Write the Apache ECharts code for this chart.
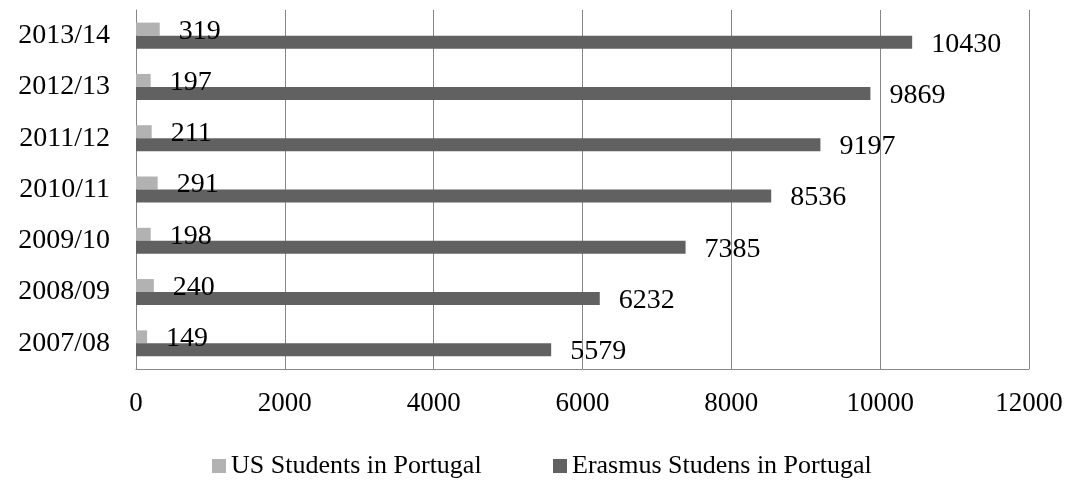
<!DOCTYPE html>
<html>
<head>
<meta charset="utf-8">
<title>US and Erasmus Students in Portugal</title>
<script src="https://cdn.jsdelivr.net/npm/echarts@6/dist/echarts.min.js"></script>
<style>
  html, body { margin: 0; padding: 0; background: #ffffff; }
  #chart { width: 1068px; height: 480px; }
</style>
</head>
<body>
<div id="chart"></div>
<script>
// Academic years, bottom to top on the category axis
const years = ['2007/08', '2008/09', '2009/10', '2010/11', '2011/12', '2012/13', '2013/14'];
// Number of US students studying in Portugal per academic year
const usStudents = [149, 240, 198, 291, 211, 197, 319];
// Number of Erasmus students studying in Portugal per academic year
const erasmusStudents = [5579, 6232, 7385, 8536, 9197, 9869, 10430];
// Value axis ticks
const valueTicks = [0, 2000, 4000, 6000, 8000, 10000, 12000];

const seriesNames = ['US Students in Portugal', 'Erasmus Studens in Portugal'];
const FONT = '"Liberation Serif", "DejaVu Serif", serif';
const GRID_COLOR = '#878787';

const chart = echarts.init(document.getElementById('chart'), null, { renderer: 'canvas' });

const labelStyle = {
  show: true,
  position: 'right',
  distance: 19,
  offset: [0, 2],
  color: '#000000',
  fontFamily: FONT,
  fontSize: 28
};

chart.setOption({
  animation: false,
  backgroundColor: '#ffffff',
  textStyle: { fontFamily: FONT },
  grid: { left: 136, right: 39, top: 10, bottom: 111, containLabel: false },
  legend: [
    {
      data: [seriesNames[0]],
      left: 207, top: 448,
      itemWidth: 14, itemHeight: 14, itemGap: 6,
      icon: 'rect',
      textStyle: { fontFamily: FONT, fontSize: 26, color: '#000000' }
    },
    {
      data: [seriesNames[1]],
      left: 548, top: 448,
      itemWidth: 14, itemHeight: 14, itemGap: 6,
      icon: 'rect',
      textStyle: { fontFamily: FONT, fontSize: 26, color: '#000000' }
    }
  ],
  xAxis: {
    type: 'value',
    min: valueTicks[0],
    max: valueTicks[valueTicks.length - 1],
    interval: valueTicks[1] - valueTicks[0],
    axisLine: { show: true, lineStyle: { color: GRID_COLOR, width: 1 } },
    axisTick: { show: false },
    splitLine: { show: true, lineStyle: { color: GRID_COLOR, width: 1 } },
    axisLabel: {
      color: '#000000', fontFamily: FONT, fontSize: 27, margin: 21,
      formatter: (v) => String(v)
    }
  },
  yAxis: {
    type: 'category',
    data: years,
    axisLine: { show: true, lineStyle: { color: GRID_COLOR, width: 1 } },
    axisTick: { show: false },
    axisLabel: { color: '#000000', fontFamily: FONT, fontSize: 28, margin: 26 }
  },
  series: [
    {
      name: seriesNames[0],
      type: 'bar',
      data: usStudents,
      barWidth: 13,
      barGap: '0%',
      itemStyle: { color: '#b2b2b2' },
      label: labelStyle
    },
    {
      name: seriesNames[1],
      type: 'bar',
      data: erasmusStudents,
      barWidth: 13,
      barGap: '0%',
      itemStyle: { color: '#616161' },
      label: labelStyle
    }
  ]
});
</script>
</body>
</html>
